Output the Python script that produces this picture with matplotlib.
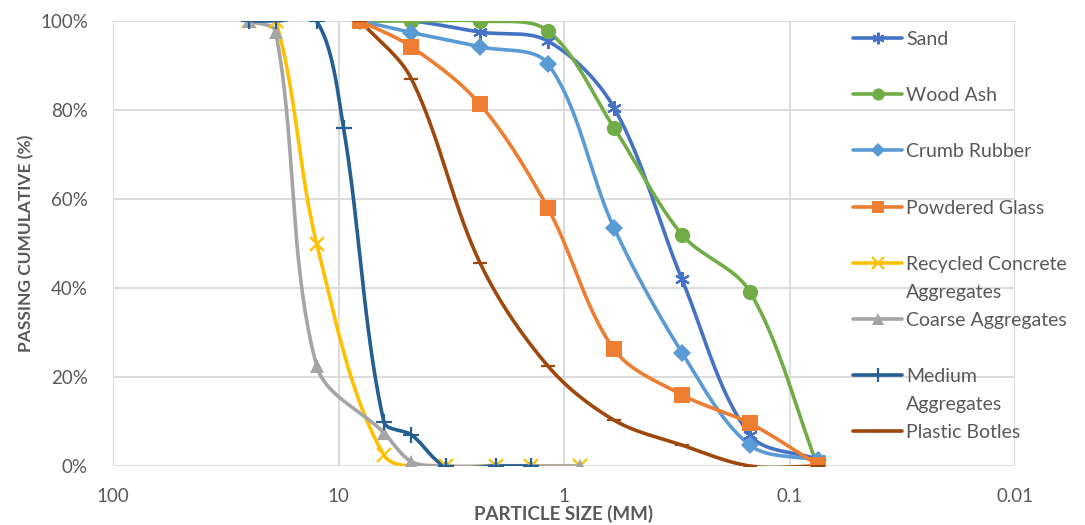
import numpy as np
import matplotlib
matplotlib.use("Agg")
import matplotlib.pyplot as plt
from matplotlib.lines import Line2D

plt.rcParams['font.family'] = ['Lato', 'DejaVu Sans']

# sieve sizes (mm) and % passing
sand_x   = [8, 4.75, 2.36, 1.18, 0.6, 0.3, 0.15, 0.075]
sand_y   = [100, 100, 97.5, 95.5, 80.5, 42, 7, 1.5]
ash_x    = [8, 4.75, 2.36, 1.18, 0.6, 0.3, 0.15, 0.075]
ash_y    = [100, 100, 100, 97.8, 76, 52, 39.2, 0]
rubber_x = [8, 4.75, 2.36, 1.18, 0.6, 0.3, 0.15, 0.075]
rubber_y = [100, 97.4, 94.2, 90.4, 53.5, 25.5, 4.7, 1.3]
glass_x  = [8, 4.75, 2.36, 1.18, 0.6, 0.3, 0.15, 0.075]
glass_y  = [100, 94.2, 81.3, 58, 26.2, 16, 9.6, 0.3]
rca_x    = [25, 19, 12.5, 6.3, 3.35, 2, 1.4, 0.85]
rca_y    = [100, 100, 50, 2.5, 0, 0, 0, 0]
coarse_x = [25, 19, 12.5, 6.3, 4.75, 3.35, 2, 1.4, 0.85]
coarse_y = [100, 97.5, 22.5, 7.5, 1, 0, 0, 0, 0]
medium_x = [25, 19, 12.5, 9.5, 6.3, 4.75, 3.35, 2, 1.4]
medium_y = [100, 100, 100, 76, 10, 7, 0, 0, 0]
plastic_x = [8, 4.75, 2.36, 1.18, 0.6, 0.3, 0.15, 0.075]
plastic_y = [100, 87, 45.7, 22.5, 10.3, 4.7, 0, 0]

series = [
    ("Sand", sand_x, sand_y, "#4472C4", (6, 2, 0), 10.5),
    ("Wood Ash", ash_x, ash_y, "#70AD47", "o", 11),
    ("Crumb Rubber", rubber_x, rubber_y, "#5B9BD5", "D", 9),
    ("Powdered Glass", glass_x, glass_y, "#ED7D31", "s", 11),
    ("Recycled Concrete\nAggregates", rca_x, rca_y, "#FFC000", "x", 10),
    ("Coarse Aggregates", coarse_x, coarse_y, "#A5A5A5", "^", 10.5),
    ("Medium\nAggregates", medium_x, medium_y, "#255E91", "+", 12),
    ("Plastic Botles", plastic_x, plastic_y, "#9E480E", "_", 10),
]


def smooth(xs, ys, n=40):
    # bezier smoothing, control arms weighted by neighbouring segment lengths
    # (measured in screen units: ~226 px per decade, 4.45 px per %)
    p = np.column_stack([np.log10(xs) * 226, np.array(ys) * 4.45])
    pts = np.vstack([p[0], p, p[-1]])
    t = np.linspace(0, 1, n)[:, None]
    segs = []
    for i in range(1, len(pts) - 2):
        p0, p1, p2, p3 = pts[i - 1:i + 3]
        d0 = np.hypot(*(p1 - p0)); d1 = np.hypot(*(p2 - p1)); d2 = np.hypot(*(p3 - p2))
        w1 = d1 / (d0 + d1) if d0 + d1 > 0 else 0.5
        w2 = d1 / (d1 + d2) if d1 + d2 > 0 else 0.5
        c1 = p1 + (p2 - p0) * w1 / 3
        c2 = p2 - (p3 - p1) * w2 / 3
        segs.append((1 - t) ** 3 * p1 + 3 * (1 - t) ** 2 * t * c1
                    + 3 * (1 - t) * t ** 2 * c2 + t ** 3 * p2)
    s = np.vstack(segs)
    return 10 ** (s[:, 0] / 226), s[:, 1] / 4.45


W, H = 1085, 525
fig = plt.figure(figsize=(W / 100, H / 100), dpi=100)
ax = fig.add_axes([113 / W, 59 / H, 902 / W, 445 / H])

for i, (name, xs, ys, col, mk, ms) in enumerate(series):
    sx, sy = smooth(xs, ys)
    ax.plot(sx, sy, color=col, lw=2.6, solid_capstyle='round', zorder=3)
    mew = 1.6 if mk in ("x", "+", "_") or isinstance(mk, tuple) else 0
    ax.plot(xs, ys, ls='none', marker=mk, ms=ms, color=col, mec=col, mew=mew, zorder=4)

    # legend entry, Excel style: fixed slots, wrapped labels hang below the key
    ly = 38 + 56.2 * i
    fig.add_artist(Line2D([853 / W, 902 / W], [1 - ly / H] * 2, color=col, lw=2.6,
                          solid_capstyle='round', transform=fig.transFigure))
    fig.add_artist(Line2D([877.5 / W], [1 - ly / H], color=col, marker=mk, ms=ms * 0.8,
                          mec=col, mew=mew, transform=fig.transFigure))
    for k, line in enumerate(name.split("\n")):
        fig.text(906 / W, 1 - (ly + 28 * k) / H, line, fontsize=14, color="#595959",
                 va='center_baseline', ha='left')

ax.set_xscale('log')
ax.set_xlim(100, 0.01)
ax.set_ylim(0, 100)
ax.set_xticks([100, 10, 1, 0.1, 0.01], ["100", "10", "1", "0.1", "0.01"])
ax.minorticks_off()
ax.set_yticks(range(0, 101, 20), [f"{v}%" for v in range(0, 101, 20)])
ax.tick_params(length=0, labelsize=13.5, labelcolor="#595959")
ax.tick_params(axis='x', pad=16)
ax.tick_params(axis='y', pad=18)
ax.grid(True, color="#D9D9D9", lw=1.3)
ax.set_axisbelow(True)
for sp in ax.spines.values():
    sp.set_visible(False)

ax.set_xlabel("PARTICLE SIZE (MM)", fontsize=13.5, fontweight='bold', color="#595959", labelpad=0)
ax.set_ylabel("PASSING CUMULATIVE (%)", fontsize=12.5, fontweight='bold', color="#595959", labelpad=4)

fig.savefig("out.png", dpi=100)
